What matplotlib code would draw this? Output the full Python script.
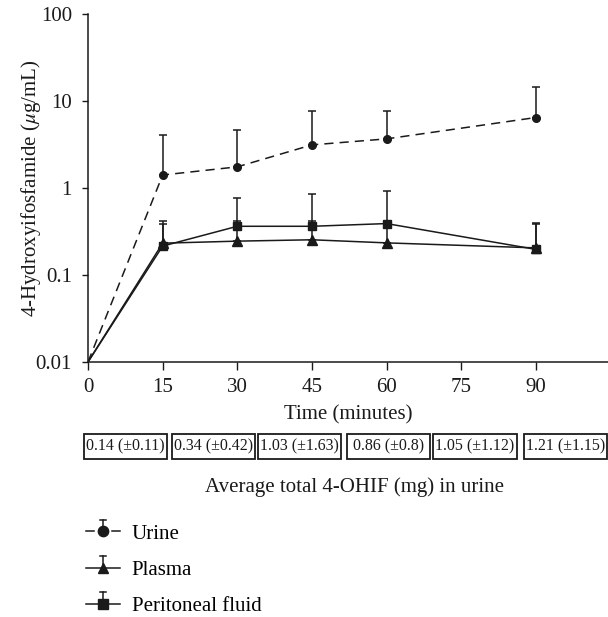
import matplotlib
matplotlib.use("Agg")
import matplotlib.pyplot as plt
import numpy as np
from matplotlib.lines import Line2D
from matplotlib.legend_handler import HandlerBase
from matplotlib.patches import Rectangle

plt.rcParams['font.family'] = ['Liberation Serif', 'DejaVu Serif']
plt.rcParams['mathtext.fontset'] = 'stix'

# data
times = np.array([0, 15, 30, 45, 60, 90])
urine = np.array([0.01, 1.41, 1.75, 3.13, 3.67, 6.46])
urine_sd = np.array([0, 2.7, 2.95, 4.6, 4.1, 8.1])
plasma = np.array([0.01, 0.232, 0.245, 0.254, 0.234, 0.205])
plasma_sd = np.array([0, 0.153, 0.175, 0.166, 0.15, 0.195])
perit = np.array([0.01, 0.215, 0.363, 0.363, 0.39, 0.197])
perit_sd = np.array([0, 0.20, 0.40, 0.50, 0.54, 0.19])

yticks = [0.01, 0.1, 1, 10, 100]
ytick_labels = ['0.01', '0.1', '1', '10', '100']
xticks = [0, 15, 30, 45, 60, 75, 90]

box_labels = ['0.14 (±0.11)', '0.34 (±0.42)', '1.03 (±1.63)',
              '0.86 (±0.8)', '1.05 (±1.12)', '1.21 (±1.15)']
box_x = [125.5, 213.8, 299.8, 388.3, 475, 565.2]   # centres in pixels

W, H = 608, 617
fs = 15
fig = plt.figure(figsize=(W / 100, H / 100), dpi=100)
ax = fig.add_axes([88 / W, 1 - 362 / H, 520 / W, 348 / H])

ink = '#1a1a1a'
series = [
    ('Urine', urine, urine_sd, 'o', 5.5, (0, (6, 4))),
    ('Plasma', plasma, plasma_sd, '^', 7.5, '-'),
    ('Peritoneal fluid', perit, perit_sd, 's', 5.5, '-'),
]

handles = []
for name, y, sd, mk, ms, ls in series:
    ax.errorbar(times[1:], y[1:], yerr=[np.zeros(len(sd) - 1), sd[1:]],
                fmt='none', ecolor=ink, elinewidth=1.1, capsize=2.8, capthick=1.1)
    ln, = ax.plot(times, y, color=ink, lw=1.1, ls=ls, marker=mk, ms=ms,
                  markevery=slice(1, None), label=name)
    handles.append(ln)

ax.set_yscale('log')
ax.set_ylim(0.01, 100)
ax.set_xlim(0, 104.5)
ax.set_yticks(yticks)
ax.set_yticklabels(ytick_labels)
ax.yaxis.set_minor_locator(matplotlib.ticker.NullLocator())
ax.set_xticks(xticks)
for s in ['top', 'right']:
    ax.spines[s].set_visible(False)
for s in ['left', 'bottom']:
    ax.spines[s].set_linewidth(1.1)
    ax.spines[s].set_color(ink)
ax.tick_params(axis='both', direction='out', width=1, colors=ink, labelsize=fs)
ax.tick_params(axis='x', pad=6, length=5.8)
ax.tick_params(axis='y', pad=7, length=4.5)
ax.set_xlabel('Time (minutes)', fontsize=fs, labelpad=6, color=ink)
ax.set_ylabel('4-Hydroxyifosfamide ($\\mu$g/mL)', fontsize=fs, labelpad=-5, color=ink)

# boxes with urine totals
bw, bh = 83, 25
for cx, lab in zip(box_x, box_labels):
    fig.patches.append(Rectangle(((cx - bw / 2) / W, 1 - 459 / H), bw / W, bh / H,
                                 transform=fig.transFigure, fill=False,
                                 edgecolor=ink, lw=1.3))
    fig.text(cx / W, 1 - 446.5 / H, lab, ha='center', va='center',
             fontsize=11.5, color=ink)
fig.text(354.7 / W, 1 - 487.5 / H, 'Average total 4-OHIF (mg) in urine',
         ha='center', va='center', fontsize=fs, color=ink)


class UpErrHandler(HandlerBase):
    def create_artists(self, legend, orig, xd, yd, w, h, fsz, trans):
        y0 = h / 2 - yd
        x0 = w / 2 - xd
        top = y0 + h * 0.8
        ls = orig.get_linestyle()
        mk = orig.get_marker()
        arts = []
        if ls not in ('-', 'solid'):
            arts += [Line2D([-xd, -xd + w * 0.23], [y0, y0], color=ink, lw=1.1),
                     Line2D([w - xd - w * 0.23, w - xd], [y0, y0], color=ink, lw=1.1)]
        else:
            arts.append(Line2D([-xd, w - xd], [y0, y0], color=ink, lw=1.1))
        scale = 1.0 if mk == '^' else 1.35
        arts += [
            Line2D([x0, x0], [y0, top], color=ink, lw=1.1),
            Line2D([x0 - 2.2, x0 + 2.2], [top, top], color=ink, lw=1.1),
            Line2D([x0], [y0], color=ink, ls='none', marker=mk,
                   ms=orig.get_markersize() * scale),
        ]
        for a in arts:
            a.set_transform(trans)
        return arts


fig.legend(handles=handles, loc='upper left', bbox_to_anchor=(86 / W, 1 - 524 / H),
           frameon=False, fontsize=fs, handlelength=1.65, handletextpad=0.55,
           labelspacing=0.8, borderpad=0, borderaxespad=0,
           handler_map={Line2D: UpErrHandler()})

fig.savefig('out.png', dpi=100)
